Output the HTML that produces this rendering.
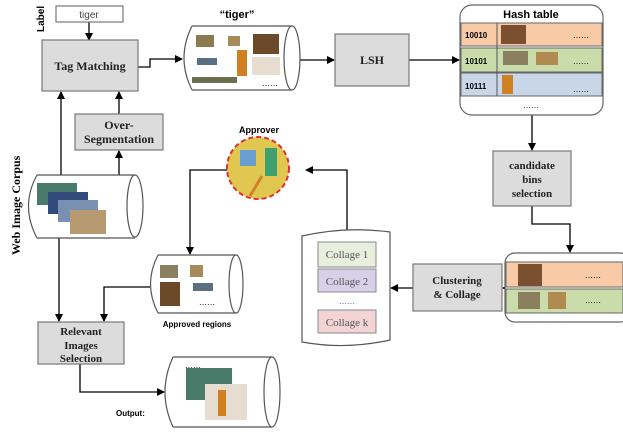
<!DOCTYPE html>
<html><head><style>body{margin:0;background:#fff}svg{display:block}</style></head><body>
<svg width="623" height="432" viewBox="0 0 623 432" xmlns="http://www.w3.org/2000/svg" font-family="Liberation Serif, serif">
<defs><marker id="a" markerWidth="8" markerHeight="8" refX="7" refY="4" orient="auto" markerUnits="userSpaceOnUse"><path d="M0,0 L8,4 L0,8z" fill="#000"/></marker></defs>
<g stroke="#000" stroke-width="1.3" fill="none" marker-end="url(#a)">
<path d="M89,22 V40"/>
<path d="M61,175 V92"/><path d="M119,175 V151"/><path d="M119,114 V92"/>
<path d="M138,67 H150 V59 H182"/>
<path d="M300,60 H334"/><path d="M409,60 H459"/>
<path d="M532,115 V150"/>
<path d="M532,206 V224 H570 V252"/>
<path d="M505,288 H503"/><path d="M413,288 H391"/>
<path d="M347,232 V170 H306"/>
<path d="M228,170 H190 V254"/>
<path d="M150,287 H104 V321"/>
<path d="M59,238 V321"/>
<path d="M80,364 V392 H164"/>
</g>
<!-- tiger label -->
<rect x="56" y="6" width="67" height="16" fill="#fff" stroke="#777" stroke-width="1.2"/>
<text x="89" y="18" font-family="Liberation Sans,sans-serif" font-size="10" text-anchor="middle" fill="#444">tiger</text>
<text transform="translate(44,32) rotate(-90)" font-family="Liberation Sans,sans-serif" font-size="10" font-weight="bold">Label</text>
<g fill="#dcdcdc" stroke="#777" stroke-width="1.2">
<rect x="42" y="40" width="96" height="51"/>
<rect x="75" y="114" width="88" height="36"/>
<rect x="335" y="34" width="74" height="52"/>
<rect x="493" y="151" width="78" height="55"/>
<rect x="413" y="264" width="89" height="47"/>
<rect x="38" y="322" width="86" height="42"/>
</g>
<g font-weight="bold" font-size="12" text-anchor="middle" fill="#222">
<text x="90" y="70">Tag Matching</text>
<text x="119" y="129">Over-</text><text x="119" y="143">Segmentation</text>
<text x="372" y="64">LSH</text>
<text x="532" y="169" font-size="11">candidate</text><text x="532" y="183" font-size="11">bins</text><text x="532" y="197" font-size="11">selection</text>
<text x="457" y="284" font-size="11">Clustering</text><text x="457" y="298" font-size="11">&amp; Collage</text>
<text x="81" y="335" font-size="11">Relevant</text><text x="81" y="349" font-size="11">Images</text><text x="81" y="362" font-size="11">Selection</text>
</g>
<!-- cylinders -->
<g fill="#fff" stroke="#555" stroke-width="1.2">
<path d="M192,26 H292 M192,90 H292 M192,26 Q176,58 192,90"/><ellipse cx="292" cy="58" rx="8" ry="32"/>
<path d="M37,175 H135 M37,238 H135 M37,175 Q20,206 37,238"/><ellipse cx="135" cy="206" rx="8" ry="31"/>
<path d="M158,255 H236 M158,313 H236 M158,255 Q143,284 158,313"/><ellipse cx="236" cy="284" rx="7" ry="29"/>
<path d="M173,357 H272 M173,427 H272 M173,357 Q157,392 173,427"/><ellipse cx="272" cy="392" rx="8" ry="35"/>
</g>
<text x="237" y="18" font-family="Liberation Sans,sans-serif" font-weight="bold" font-size="11" text-anchor="middle">“tiger”</text>
<!-- tiger cylinder images -->
<rect x="196" y="35" width="18" height="12" fill="#8a7a50"/><rect x="228" y="36" width="12" height="10" fill="#a78a5a"/><rect x="253" y="34" width="26" height="20" fill="#6b4a2a"/>
<rect x="197" y="58" width="20" height="7" fill="#5a7080"/><rect x="237" y="50" width="10" height="26" fill="#d08020"/><rect x="252" y="57" width="28" height="18" fill="#e6dcd0"/>
<rect x="192" y="77" width="45" height="6" fill="#6a7050"/><text x="270" y="86" font-size="8" text-anchor="middle">……</text>
<!-- corpus images -->
<rect x="37" y="183" width="40" height="22" fill="#4a7a6a"/><rect x="48" y="192" width="40" height="22" fill="#304a7a"/><rect x="58" y="200" width="40" height="22" fill="#7a90b0"/><rect x="70" y="210" width="36" height="24" fill="#b89a70"/>
<text transform="translate(20,255) rotate(-90)" font-weight="bold" font-size="12">Web Image Corpus</text>
<!-- hash table -->
<rect x="460" y="5" width="143" height="110" rx="12" fill="#fff" stroke="#666" stroke-width="1.2"/>
<text x="531" y="18" font-family="Liberation Sans,sans-serif" font-weight="bold" font-size="11" text-anchor="middle">Hash table</text>
<rect x="461" y="23" width="141" height="23" fill="#f8cba6" stroke="#666"/>
<rect x="461" y="48" width="141" height="24" fill="#c9dcaa" stroke="#666"/>
<rect x="461" y="73" width="141" height="23" fill="#c8d6e8" stroke="#666"/>
<line x1="497" y1="23" x2="497" y2="96" stroke="#555"/>
<g font-family="Liberation Sans,sans-serif" font-weight="bold" font-size="8"><text x="465" y="38">10010</text><text x="465" y="64">10101</text><text x="465" y="89">10111</text></g>
<rect x="501" y="25" width="25" height="19" fill="#7a5030"/><rect x="503" y="51" width="25" height="14" fill="#8a8060"/><rect x="536" y="52" width="22" height="13" fill="#b08a50"/><rect x="502" y="75" width="11" height="19" fill="#d08020"/>
<g font-size="8" text-anchor="middle"><text x="581" y="38">……</text><text x="581" y="64">……</text><text x="581" y="92">……</text><text x="531" y="108">……</text></g>
<!-- second table -->
<rect x="505" y="253" width="125" height="69" rx="10" fill="#fff" stroke="#666" stroke-width="1.2"/>
<rect x="506" y="262" width="117" height="25" fill="#f8cba6" stroke="#666"/>
<rect x="506" y="289" width="117" height="24" fill="#c9dcaa" stroke="#666"/>
<rect x="518" y="264" width="24" height="22" fill="#7a5030"/><rect x="518" y="292" width="22" height="17" fill="#8a8060"/><rect x="548" y="292" width="18" height="17" fill="#b08a50"/>
<g font-size="8" text-anchor="middle"><text x="593" y="278">……</text><text x="593" y="303">……</text></g>
<!-- document -->
<path d="M302,236 Q346,226 390,232 V340 Q346,350 302,342 Z" fill="#fff" stroke="#555" stroke-width="1.2"/>
<rect x="318" y="242" width="58" height="25" fill="#e8efdc" stroke="#888"/>
<rect x="318" y="269" width="58" height="23" fill="#d8d0e8" stroke="#888"/>
<rect x="318" y="310" width="58" height="23" fill="#f2d4d4" stroke="#888"/>
<g font-size="11" text-anchor="middle" fill="#555"><text x="347" y="258">Collage 1</text><text x="347" y="285">Collage 2</text><text x="347" y="304" font-size="8">……</text><text x="347" y="326">Collage k</text></g>
<!-- approver -->
<text x="259" y="133" font-family="Liberation Sans,sans-serif" font-weight="bold" font-size="9" text-anchor="middle">Approver</text>
<circle cx="258" cy="168" r="31" fill="#e0c850" stroke="#e03030" stroke-width="2" stroke-dasharray="5,3"/>
<rect x="240" y="150" width="16" height="16" fill="#6aa0d0"/><rect x="265" y="148" width="12" height="28" fill="#40a070"/><path d="M262,176 L250,196" stroke="#d08030" stroke-width="3"/>
<!-- approved regions -->
<rect x="160" y="265" width="18" height="13" fill="#8a8060"/><rect x="190" y="265" width="13" height="12" fill="#a78a5a"/><rect x="160" y="282" width="20" height="24" fill="#6b4a2a"/><rect x="193" y="283" width="20" height="8" fill="#5a7080"/>
<text x="207" y="305" font-size="8" text-anchor="middle">……</text>
<text x="197" y="327" font-family="Liberation Sans,sans-serif" font-weight="bold" font-size="8" text-anchor="middle">Approved regions</text>
<!-- output -->
<text x="185" y="368" font-size="8">……</text>
<rect x="186" y="368" width="46" height="32" fill="#4a7a6a"/><rect x="205" y="384" width="42" height="36" fill="#e6dcd0"/><rect x="218" y="390" width="8" height="26" fill="#d08020"/>
<text x="116" y="416" font-family="Liberation Sans,sans-serif" font-weight="bold" font-size="8">Output:</text>
</svg>
</body></html>
